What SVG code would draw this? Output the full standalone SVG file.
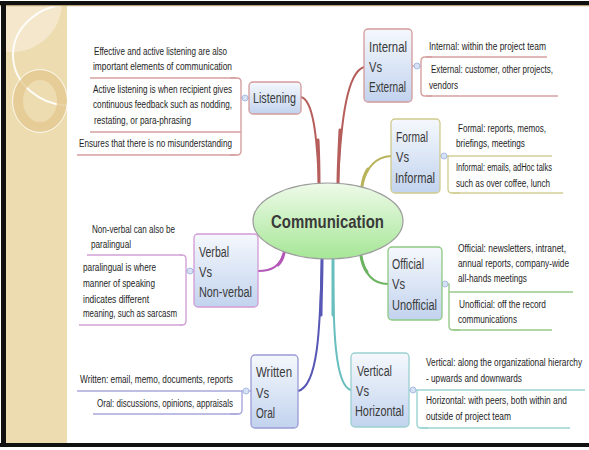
<svg xmlns="http://www.w3.org/2000/svg" width="589" height="450" viewBox="0 0 589 450">
  <defs>
    <linearGradient id="topicFill" x1="0" y1="0" x2="0" y2="1">
      <stop offset="0" stop-color="#F5F8FD"/>
      <stop offset="1" stop-color="#C2D3EE"/>
    </linearGradient>
    <linearGradient id="centralFill" x1="0" y1="0" x2="0" y2="1">
      <stop offset="0" stop-color="#EEFAE8"/>
      <stop offset="1" stop-color="#A6E697"/>
    </linearGradient>
    <clipPath id="panelClip">
      <rect x="6" y="5" width="61" height="438"/>
    </clipPath>
    <style>
      .topic { stroke-width: 1.3; fill: url(#topicFill); }
      .tt { font-family: "Liberation Sans", Arial, sans-serif; font-size: 15px; fill: #3a3a3a; }
      .st { font-family: "Liberation Sans", Arial, sans-serif; font-size: 11.5px; fill: #1e1e1e; }
      .branch { fill: none; stroke-linecap: round; }
      .spine { fill: none; stroke-width: 1.4; }
      .line { fill: none; stroke-width: 1.4; }
      .knob { fill: #D6E1F5; stroke: #A8BCE2; stroke-width: 1; }
      .red { stroke: #D6A0A0; }
      .olive { stroke: #D3CE95; }
      .green { stroke: #98C98A; }
      .teal { stroke: #9CD3D3; }
      .blue { stroke: #A8A8DC; }
      .magenta { stroke: #D2A2D6; }
    </style>
  </defs>

  <!-- page background and frame -->
  <rect x="0" y="0" width="589" height="450" fill="#FFFFFF"/>
  <g id="side-panel">
    <rect x="6" y="5" width="61" height="438" fill="#EEDCB1"/>
    <g clip-path="url(#panelClip)">
      <circle cx="12" cy="2" r="50" fill="#F5EAD2" opacity="0.8"/>
      <ellipse cx="72" cy="55" rx="59" ry="51" fill="none" stroke="#FFFFFF" stroke-width="2" opacity="0.9"/>
      <ellipse cx="40" cy="101" rx="22" ry="26" fill="none" stroke="#E3C78E" stroke-width="10" opacity="0.75"/>
      <ellipse cx="40" cy="101" rx="27.5" ry="31.5" fill="none" stroke="#FFFFFF" stroke-width="1" opacity="0.8"/>
    </g>
  </g>
  <rect x="0" y="1" width="589" height="4" fill="#111111"/>
  <rect x="0" y="5" width="589" height="1.2" fill="#B9A27A"/>
  <rect x="1" y="1" width="5" height="446" fill="#111111"/>
  <rect x="0" y="443" width="589" height="4" fill="#111111"/>

  <!-- connectors: main branches (thin outer part, heavier part near the centre), subtopic brackets and collapse knobs -->
  <g id="connectors">
    <g class="branch" stroke="#B65E5B">
      <path stroke-width="2" d="M301,97 C313,100 317,135 319,184"/>
      <path stroke-width="3" d="M318,140 C319,160 319,172 319,184"/>
      <path stroke-width="2" d="M364,67 C348,72 341,115 338,184"/>
      <path stroke-width="3" d="M340,130 C339,150 338,170 338,184"/>
    </g>
    <g class="branch" stroke="#B9B45C">
      <path stroke-width="2" d="M362,186 C366,168 375,157 391,156"/>
      <path stroke-width="3" d="M362,186 C363,179 365,173 368,169"/>
    </g>
    <g class="branch" stroke="#6DB462">
      <path stroke-width="2" d="M361,256 C364,272 372,284 388,284"/>
      <path stroke-width="3" d="M361,256 C362,262 364,268 367,272"/>
    </g>
    <g class="branch" stroke="#67BEBD">
      <path stroke-width="2" d="M333,259 C333,330 335,386 351,390"/>
      <path stroke-width="3" d="M333,259 C333,280 333,300 333,315"/>
    </g>
    <g class="branch" stroke="#5757B5">
      <path stroke-width="2" d="M322,259 C320,330 318,386 298,391"/>
      <path stroke-width="3" d="M322,259 C322,280 321,300 321,315"/>
    </g>
    <g class="branch" stroke="#B458B8">
      <path stroke-width="2" d="M284,253 C280,266 272,271 258,271"/>
      <path stroke-width="3" d="M284,253 C283,258 281,262 278,265"/>
    </g>

    <!-- Listening bracket -->
    <path class="spine red" d="M230,78 H237 Q241,78 241,82 V151 Q241,155 237,155 H230 M241,98 H249"/>
    <circle class="knob" cx="245" cy="98" r="3"/>
    <!-- Internal Vs External bracket -->
    <path class="spine red" d="M432,57 H425 Q421,57 421,61 V92 Q421,96 425,96 H432 M412,66 H421"/>
    <circle class="knob" cx="417" cy="66" r="3"/>
    <!-- Formal Vs Informal bracket -->
    <path class="spine olive" d="M440,156 H448 V189 Q448,193 452,193 H460"/>
    <circle class="knob" cx="444" cy="156" r="3"/>
    <!-- Official Vs Unofficial bracket -->
    <path class="spine green" d="M442,284 H449 V326 Q449,330 453,330 H460"/>
    <circle class="knob" cx="445" cy="284" r="3"/>
    <!-- Vertical Vs Horizontal bracket -->
    <path class="spine teal" d="M409,390 H417 V424 Q417,428 421,428 H428"/>
    <circle class="knob" cx="413" cy="390" r="3"/>
    <!-- Written Vs Oral bracket -->
    <path class="spine blue" d="M251,391 H242 V410 Q242,414 238,414 H230"/>
    <circle class="knob" cx="246" cy="391" r="3"/>
    <!-- Verbal Vs Non-verbal bracket -->
    <path class="spine magenta" d="M180,255 H182 Q186,255 186,259 V321 Q186,325 182,325 H180 M186,271 H194"/>
    <circle class="knob" cx="190" cy="271" r="3"/>
  </g>

  <!-- central topic -->
  <g id="node-communication">
    <ellipse cx="328" cy="221" rx="75" ry="38" fill="url(#centralFill)" stroke="#9C9C9C" stroke-width="1.2"/>
    <text transform="translate(271,227.5) scale(0.86,1)" font-family="'Liberation Sans', Arial, sans-serif" font-size="17.5" font-weight="bold" fill="#3A3A3A" textLength="131.4" lengthAdjust="spacingAndGlyphs">Communication</text>
  </g>

  <!-- main topics (text is set in a condensed face: x-scale 0.72) -->
  <g id="node-listening">
    <rect class="topic" x="249" y="82" width="52" height="32" rx="4" stroke="#D39A9A"/>
    <text class="tt" transform="translate(253,103) scale(0.72,1)" textLength="59.7" lengthAdjust="spacingAndGlyphs">Listening</text>
  </g>
  <g id="node-internal-external">
    <rect class="topic" x="364" y="29" width="48" height="73" rx="4" stroke="#D39A9A"/>
    <text class="tt" transform="translate(369,52) scale(0.72,1)" textLength="52.8" lengthAdjust="spacingAndGlyphs">Internal</text>
    <text class="tt" transform="translate(369,72) scale(0.72,1)" textLength="18.1" lengthAdjust="spacingAndGlyphs">Vs</text>
    <text class="tt" transform="translate(369,92) scale(0.72,1)" textLength="51.4" lengthAdjust="spacingAndGlyphs">External</text>
  </g>
  <g id="node-formal-informal">
    <rect class="topic" x="391" y="119" width="49" height="74" rx="4" stroke="#CFCA8C"/>
    <text class="tt" transform="translate(396,142) scale(0.72,1)" textLength="44.4" lengthAdjust="spacingAndGlyphs">Formal</text>
    <text class="tt" transform="translate(396,162) scale(0.72,1)" textLength="18.1" lengthAdjust="spacingAndGlyphs">Vs</text>
    <text class="tt" transform="translate(395,183) scale(0.72,1)" textLength="55.6" lengthAdjust="spacingAndGlyphs">Informal</text>
  </g>
  <g id="node-official-unofficial">
    <rect class="topic" x="388" y="247" width="54" height="73" rx="4" stroke="#8DC981"/>
    <text class="tt" transform="translate(392,269) scale(0.72,1)" textLength="44.4" lengthAdjust="spacingAndGlyphs">Official</text>
    <text class="tt" transform="translate(392,289) scale(0.72,1)" textLength="18.1" lengthAdjust="spacingAndGlyphs">Vs</text>
    <text class="tt" transform="translate(392,310) scale(0.72,1)" textLength="62.5" lengthAdjust="spacingAndGlyphs">Unofficial</text>
  </g>
  <g id="node-vertical-horizontal">
    <rect class="topic" x="351" y="353" width="58" height="74" rx="4" stroke="#99D0D0"/>
    <text class="tt" transform="translate(357,376) scale(0.72,1)" textLength="48.6" lengthAdjust="spacingAndGlyphs">Vertical</text>
    <text class="tt" transform="translate(356,396) scale(0.72,1)" textLength="18.1" lengthAdjust="spacingAndGlyphs">Vs</text>
    <text class="tt" transform="translate(355,416) scale(0.72,1)" textLength="68.1" lengthAdjust="spacingAndGlyphs">Horizontal</text>
  </g>
  <g id="node-written-oral">
    <rect class="topic" x="251" y="355" width="47" height="73" rx="4" stroke="#9A9AD6"/>
    <text class="tt" transform="translate(256,377) scale(0.72,1)" textLength="50" lengthAdjust="spacingAndGlyphs">Written</text>
    <text class="tt" transform="translate(256,398) scale(0.72,1)" textLength="18.1" lengthAdjust="spacingAndGlyphs">Vs</text>
    <text class="tt" transform="translate(256,418) scale(0.72,1)" textLength="26.4" lengthAdjust="spacingAndGlyphs">Oral</text>
  </g>
  <g id="node-verbal-nonverbal">
    <rect class="topic" x="194" y="234" width="64" height="73" rx="4" stroke="#D29AD6"/>
    <text class="tt" transform="translate(199,257) scale(0.72,1)" textLength="41.7" lengthAdjust="spacingAndGlyphs">Verbal</text>
    <text class="tt" transform="translate(199,277) scale(0.72,1)" textLength="18.1" lengthAdjust="spacingAndGlyphs">Vs</text>
    <text class="tt" transform="translate(199,297) scale(0.72,1)" textLength="73.6" lengthAdjust="spacingAndGlyphs">Non-verbal</text>
  </g>

  <!-- subtopics: Listening -->
  <g id="sub-listening-1">
    <text class="st" transform="translate(94,55) scale(0.72,1)" textLength="184.7" lengthAdjust="spacingAndGlyphs">Effective and active listening are also</text>
    <text class="st" transform="translate(93,70) scale(0.72,1)" textLength="193.1" lengthAdjust="spacingAndGlyphs">important elements of communication</text>
    <path class="line red" d="M90,78 H236"/>
  </g>
  <g id="sub-listening-2">
    <text class="st" transform="translate(93,93) scale(0.72,1)" textLength="193.1" lengthAdjust="spacingAndGlyphs">Active listening is when recipient gives</text>
    <text class="st" transform="translate(93,108) scale(0.72,1)" textLength="193.1" lengthAdjust="spacingAndGlyphs">continuous feedback such as nodding,</text>
    <text class="st" transform="translate(94,124) scale(0.72,1)" textLength="134.7" lengthAdjust="spacingAndGlyphs">restating, or para-phrasing</text>
    <path class="line red" d="M90,132 H241"/>
  </g>
  <g id="sub-listening-3">
    <text class="st" transform="translate(79,147) scale(0.72,1)" textLength="212.5" lengthAdjust="spacingAndGlyphs">Ensures that there is no misunderstanding</text>
    <path class="line red" d="M77,155 H236"/>
  </g>

  <!-- subtopics: Internal Vs External -->
  <g id="sub-internal">
    <text class="st" transform="translate(429,50) scale(0.72,1)" textLength="162.5" lengthAdjust="spacingAndGlyphs">Internal: within the project team</text>
    <path class="line red" d="M426,57 H547"/>
  </g>
  <g id="sub-external">
    <text class="st" transform="translate(431,73) scale(0.72,1)" textLength="169.4" lengthAdjust="spacingAndGlyphs">External: customer, other projects,</text>
    <text class="st" transform="translate(429,89) scale(0.72,1)" textLength="40.3" lengthAdjust="spacingAndGlyphs">vendors</text>
    <path class="line red" d="M426,96 H558"/>
  </g>

  <!-- subtopics: Formal Vs Informal -->
  <g id="sub-formal">
    <text class="st" transform="translate(458,132) scale(0.72,1)" textLength="122.2" lengthAdjust="spacingAndGlyphs">Formal: reports, memos,</text>
    <text class="st" transform="translate(456,147) scale(0.72,1)" textLength="95.8" lengthAdjust="spacingAndGlyphs">briefings, meetings</text>
    <path class="line olive" d="M448,156 H552"/>
  </g>
  <g id="sub-informal">
    <text class="st" transform="translate(456,171) scale(0.72,1)" textLength="133.3" lengthAdjust="spacingAndGlyphs">Informal: emails, adHoc talks</text>
    <text class="st" transform="translate(456,187) scale(0.72,1)" textLength="130.6" lengthAdjust="spacingAndGlyphs">such as over coffee, lunch</text>
    <path class="line olive" d="M452,193 H563"/>
  </g>

  <!-- subtopics: Official Vs Unofficial -->
  <g id="sub-official">
    <text class="st" transform="translate(458,252) scale(0.72,1)" textLength="150" lengthAdjust="spacingAndGlyphs">Official: newsletters, intranet,</text>
    <text class="st" transform="translate(458,267) scale(0.72,1)" textLength="154.2" lengthAdjust="spacingAndGlyphs">annual reports, company-wide</text>
    <text class="st" transform="translate(458,282) scale(0.72,1)" textLength="95.8" lengthAdjust="spacingAndGlyphs">all-hands meetings</text>
    <path class="line green" d="M449,292 H573"/>
  </g>
  <g id="sub-unofficial">
    <text class="st" transform="translate(459,308) scale(0.72,1)" textLength="120.8" lengthAdjust="spacingAndGlyphs">Unofficial: off the record</text>
    <text class="st" transform="translate(458,323) scale(0.72,1)" textLength="81.9" lengthAdjust="spacingAndGlyphs">communications</text>
    <path class="line green" d="M453,330 H552"/>
  </g>

  <!-- subtopics: Vertical Vs Horizontal -->
  <g id="sub-vertical">
    <text class="st" transform="translate(426,366) scale(0.72,1)" textLength="216.7" lengthAdjust="spacingAndGlyphs">Vertical: along the organizational hierarchy</text>
    <text class="st" transform="translate(426,382) scale(0.72,1)" textLength="133.3" lengthAdjust="spacingAndGlyphs">- upwards and downwards</text>
    <path class="line teal" d="M417,390 H585"/>
  </g>
  <g id="sub-horizontal">
    <text class="st" transform="translate(426,404) scale(0.72,1)" textLength="195.8" lengthAdjust="spacingAndGlyphs">Horizontal: with peers, both within and</text>
    <text class="st" transform="translate(426,420) scale(0.72,1)" textLength="118.1" lengthAdjust="spacingAndGlyphs">outside of project team</text>
    <path class="line teal" d="M421,428 H570"/>
  </g>

  <!-- subtopics: Written Vs Oral -->
  <g id="sub-written">
    <text class="st" transform="translate(80,383) scale(0.72,1)" textLength="212.5" lengthAdjust="spacingAndGlyphs">Written: email, memo, documents, reports</text>
    <path class="line blue" d="M77,391 H242"/>
  </g>
  <g id="sub-oral">
    <text class="st" transform="translate(97,407) scale(0.72,1)" textLength="188.9" lengthAdjust="spacingAndGlyphs">Oral: discussions, opinions, appraisals</text>
    <path class="line blue" d="M93,414 H238"/>
  </g>

  <!-- subtopics: Verbal Vs Non-verbal -->
  <g id="sub-nonverbal">
    <text class="st" transform="translate(92,233) scale(0.72,1)" textLength="115.3" lengthAdjust="spacingAndGlyphs">Non-verbal can also be</text>
    <text class="st" transform="translate(91,248) scale(0.72,1)" textLength="55.6" lengthAdjust="spacingAndGlyphs">paralingual</text>
    <path class="line magenta" d="M87,255 H182"/>
  </g>
  <g id="sub-paralingual">
    <text class="st" transform="translate(83,271) scale(0.72,1)" textLength="101.4" lengthAdjust="spacingAndGlyphs">paralingual is where</text>
    <text class="st" transform="translate(83,287) scale(0.72,1)" textLength="100" lengthAdjust="spacingAndGlyphs">manner of speaking</text>
    <text class="st" transform="translate(83,303) scale(0.72,1)" textLength="91.7" lengthAdjust="spacingAndGlyphs">indicates different</text>
    <text class="st" transform="translate(83,317) scale(0.72,1)" textLength="130.6" lengthAdjust="spacingAndGlyphs">meaning, such as sarcasm</text>
    <path class="line magenta" d="M79,325 H182"/>
  </g>
</svg>
